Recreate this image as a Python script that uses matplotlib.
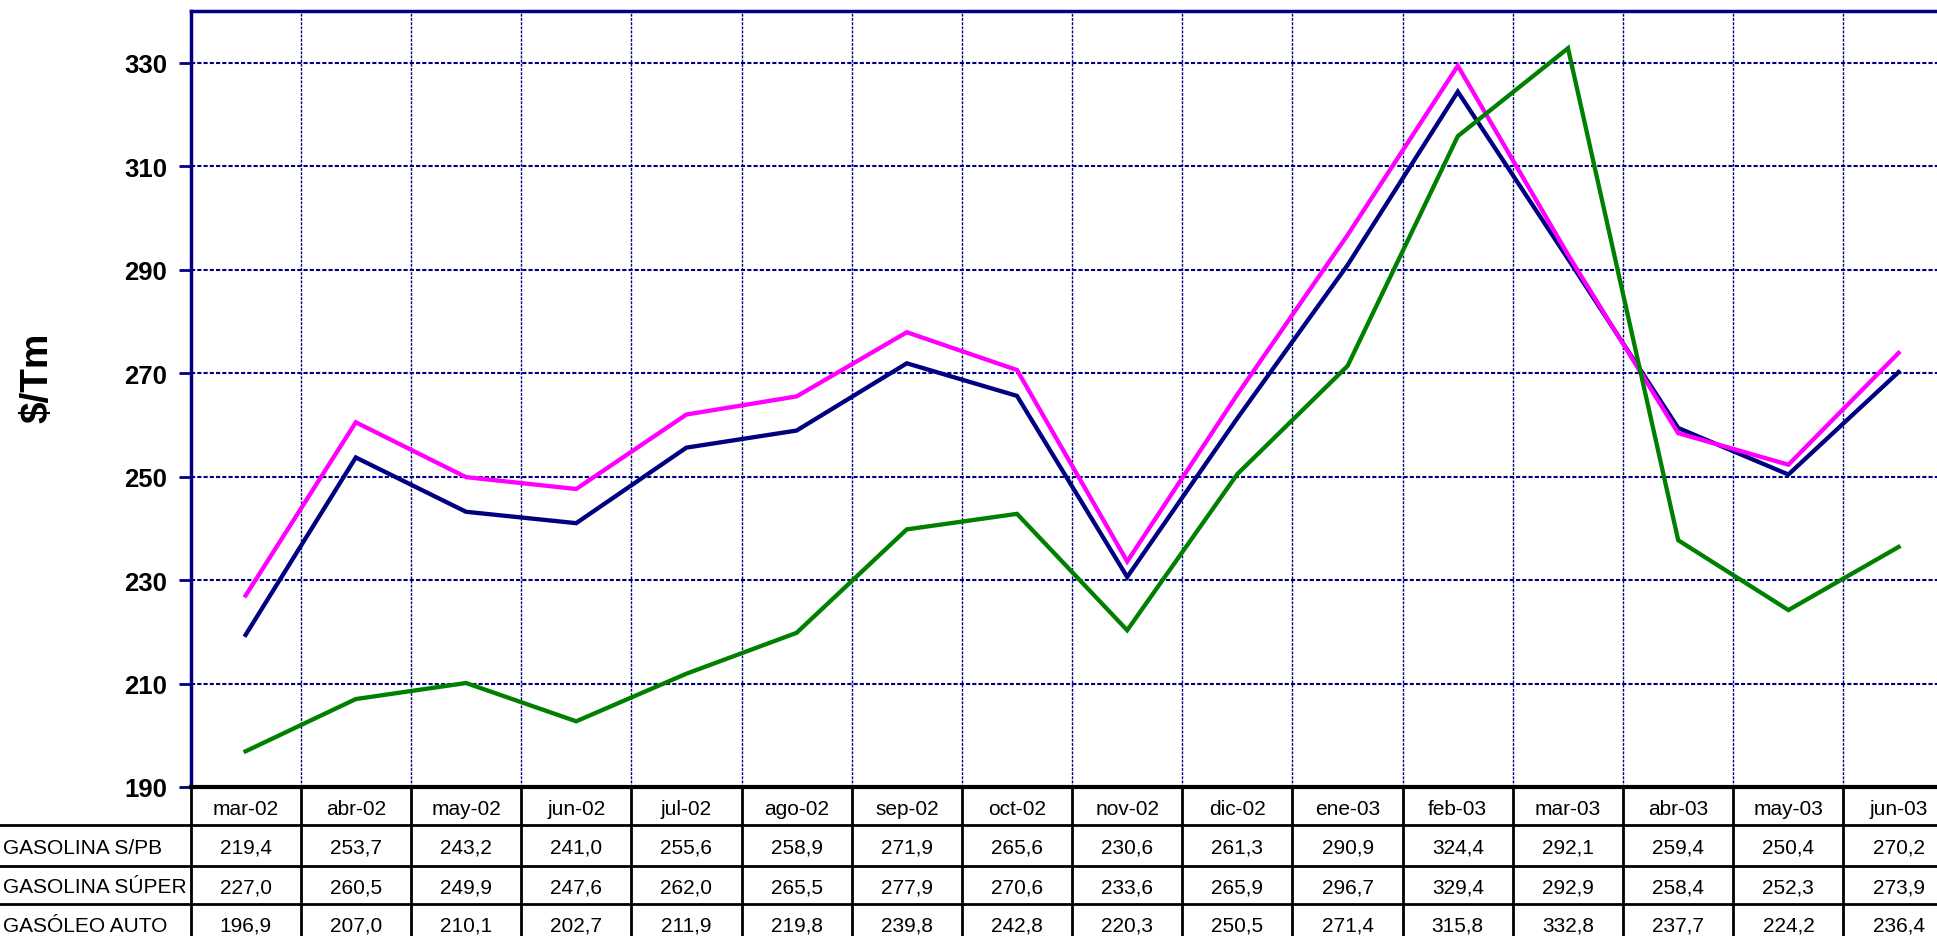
import matplotlib.pyplot as plt
import matplotlib.transforms as mtransforms
import numpy as np

plt.rcParams['font.family'] = ['Liberation Sans', 'DejaVu Sans']

# Data
months = ['mar-02', 'abr-02', 'may-02', 'jun-02', 'jul-02', 'ago-02', 'sep-02', 'oct-02',
          'nov-02', 'dic-02', 'ene-03', 'feb-03', 'mar-03', 'abr-03', 'may-03', 'jun-03']
series_names = ['GASOLINA S/PB', 'GASOLINA SÚPER', 'GASÓLEO AUTO']
gasolina_spb = [219.4, 253.7, 243.2, 241.0, 255.6, 258.9, 271.9, 265.6,
                230.6, 261.3, 290.9, 324.4, 292.1, 259.4, 250.4, 270.2]
gasolina_super = [227.0, 260.5, 249.9, 247.6, 262.0, 265.5, 277.9, 270.6,
                  233.6, 265.9, 296.7, 329.4, 292.9, 258.4, 252.3, 273.9]
gasoleo_auto = [196.9, 207.0, 210.1, 202.7, 211.9, 219.8, 239.8, 242.8,
                220.3, 250.5, 271.4, 315.8, 332.8, 237.7, 224.2, 236.4]
series = [gasolina_spb, gasolina_super, gasoleo_auto]
colors = ['#000080', '#FF00FF', '#008000']
yticks = [190, 210, 230, 250, 270, 290, 310, 330]

W, H = 1937, 937
fig = plt.figure(figsize=(W / 100, H / 100), dpi=100)

# plot area in pixels (runs past the right edge, like the original)
left_px, top_px, bottom_px = 190.5, 12, 788
col_w = 110.2
n = len(months)
ax = fig.add_axes([left_px / W, (H - bottom_px) / H,
                   n * col_w / W, (bottom_px - top_px) / H])

x = np.arange(n)
for vals, c in zip(series, colors):
    ax.plot(x, vals, color=c, lw=3.1, solid_joinstyle='miter', zorder=3)

ax.set_xlim(-0.5, n - 0.5)
ax.set_ylim(190, 340)
ax.set_yticks(yticks)
ax.set_yticklabels([str(t) for t in yticks], fontsize=18.5, fontweight='bold')
ax.set_xticks([])
ax.set_xticks(np.arange(n + 1) - 0.5, minor=True)
ax.tick_params(axis='x', which='both', length=0)
ax.tick_params(axis='y', direction='out', length=9, width=2, color='#000080', pad=8)

ax.grid(axis='y', which='major', color='#000080', lw=1.5, ls=(0, (2, 1)))
ax.grid(axis='x', which='minor', color='#000080', lw=1.0, ls=(0, (2, 1)))

ax.spines['right'].set_visible(False)
ax.spines['left'].set_color('#000080')
ax.spines['left'].set_linewidth(2.5)
ax.spines['top'].set_color('#000080')
ax.spines['top'].set_linewidth(2.5)
ax.spines['bottom'].set_color('black')
ax.spines['bottom'].set_linewidth(3)

fig.text(37 / W, (H - 378) / H, '$/Tm', rotation=90, fontsize=28, fontweight='bold',
         ha='center', va='center')

# data table below the plot
trans = mtransforms.blended_transform_factory(ax.transData, fig.transFigure)
row_edges = [788, 826, 867, 905, 944]


def fy(px):
    return (H - px) / H


for k in range(n + 1):
    fig.add_artist(plt.Line2D([k - 0.5, k - 0.5], [fy(788), fy(944)], transform=trans,
                              color='black', lw=2, clip_on=False))
for e in row_edges[1:4]:
    fig.add_artist(plt.Line2D([0, 1], [fy(e), fy(e)], transform=fig.transFigure,
                              color='black', lw=2))

hdr_y = fy((row_edges[0] + row_edges[1]) / 2 + 3)
for i, m in enumerate(months):
    fig.text(i, hdr_y, m, transform=trans, ha='center', va='center', fontsize=15)

for r, (name, vals) in enumerate(zip(series_names, series)):
    cy = fy((row_edges[r + 1] + row_edges[r + 2]) / 2 + 2)
    fig.text(3 / W, cy, name, ha='left', va='center', fontsize=15)
    for i, v in enumerate(vals):
        fig.text(i, cy, f'{v:.1f}'.replace('.', ','), transform=trans,
                 ha='center', va='center', fontsize=15)

fig.savefig('out.png', dpi=100)
